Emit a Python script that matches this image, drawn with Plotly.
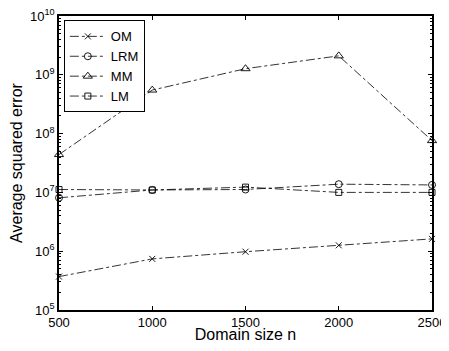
import plotly.graph_objects as go

domain_size = [500, 1000, 1500, 2000, 2500]
om = [3.7e5, 7.4e5, 9.8e5, 1.26e6, 1.62e6]
lrm = [8.1e6, 1.1e7, 1.12e7, 1.38e7, 1.34e7]
mm = [4.4e7, 5.5e8, 1.27e9, 2.1e9, 7.6e7]
lm = [1.12e7, 1.1e7, 1.23e7, 1.0e7, 1.0e7]
y_exponents = [5, 6, 7, 8, 9, 10]

series = [
    ("OM", om, "x-thin-open", 6),
    ("LRM", lrm, "circle-open", 7),
    ("MM", mm, "triangle-up-open", 8),
    ("LM", lm, "square-open", 6),
]

fig = go.Figure()
for name, vals, sym, sz in series:
    fig.add_trace(go.Scatter(
        x=domain_size, y=vals, name=name, mode="lines+markers",
        line=dict(color="black", width=0.8, dash="dashdot"),
        marker=dict(symbol=sym, size=sz, color="black",
                    line=dict(color="black", width=0.9)),
        cliponaxis=False,
    ))

font = dict(family="Liberation Sans, Arial, sans-serif", size=13, color="black")

major_vals = [10.0 ** e for e in y_exponents]
major_text = ["10<sup>%d</sup>" % e for e in y_exponents]
minor_vals = [m * 10.0 ** e for e in y_exponents[:-1] for m in range(2, 10)]

# page body has an 8px default margin; size/margins compensate for it
fig.update_layout(
    width=441, height=335,
    margin=dict(l=51, r=17, t=8, b=33, autoexpand=False),
    paper_bgcolor="white", plot_bgcolor="white",
    font=font,
    showlegend=True,
    legend=dict(x=0.013, y=0.985, xanchor="left", yanchor="top",
                bordercolor="black", borderwidth=1, bgcolor="white",
                font=dict(family="Liberation Sans, Arial, sans-serif", size=13),
                tracegroupgap=0, itemwidth=36),
    xaxis=dict(
        range=[500, 2500], tickvals=[500, 1000, 1500, 2000, 2500],
        ticks="inside", ticklen=4, tickcolor="black",
        showline=True, linecolor="black", linewidth=1.5, mirror="ticks",
        showgrid=False, zeroline=False, automargin=False,
        ticklabeloverflow="allow",
        title=dict(text="Domain size n", standoff=4),
    ),
    yaxis=dict(
        type="log", range=[5, 10],
        tickmode="array", tickvals=major_vals, ticktext=major_text,
        ticks="inside", ticklen=4, tickcolor="black",
        showline=True, linecolor="black", linewidth=1.5, mirror="ticks",
        showgrid=False, zeroline=False, automargin=False,
        ticklabeloverflow="allow",
        minor=dict(tickmode="array", tickvals=minor_vals, ticks="inside",
                   ticklen=2, tickcolor="black", showgrid=False),
        title=dict(text="Average squared error", standoff=13),
    ),
)

fig.write_html("out.html")
